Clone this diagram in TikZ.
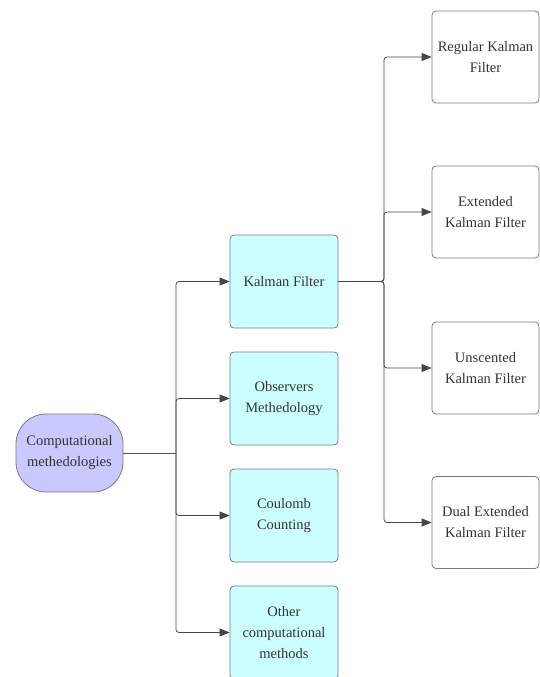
\documentclass[tikz,border=0pt]{standalone}
\usepackage{fontspec}
\setmainfont{Liberation Serif}
\usetikzlibrary{arrows.meta}
\definecolor{cyanfill}{HTML}{CCFFFF}
\definecolor{lavfill}{HTML}{C9C9FF}
\definecolor{boxline}{HTML}{7A7A80}
\definecolor{conn}{HTML}{454545}
\definecolor{rootconn}{HTML}{4A4A80}
\definecolor{txt}{HTML}{333333}
\tikzset{
  base/.style={draw=boxline, line width=0.8pt, rounded corners=4pt, minimum width=108pt, minimum height=93pt, align=center, text=txt, font=\fontsize{14.5}{21}\selectfont, inner sep=2pt},
  method/.style={base, fill=cyanfill},
  leaf/.style={base, fill=white, minimum width=107pt, minimum height=92pt},
  root/.style={draw=boxline, line width=0.8pt, rounded corners=30pt, fill=lavfill, minimum width=107pt, minimum height=78pt, align=center, text=txt, font=\fontsize{14.5}{21}\selectfont},
  arr/.style={draw=conn, line width=0.8pt, rounded corners=3pt, -{Triangle[length=10pt,width=8pt]}},
  rootline/.style={draw=rootconn, line width=0.9pt}
}
\begin{document}
\begin{tikzpicture}[x=1pt,y=-1pt]
\useasboundingbox (0,0) rectangle (539,677);
\node[root] (cm) at (69.5,453) {Computational\\methedologies};
\node[method] (kf) at (284,281.5) {Kalman Filter};
\node[method] (ob) at (284,398.5) {Observers\\Methedology};
\node[method] (cc) at (284,515.5) {Coulomb\\Counting};
\node[method] (oc) at (284,632.5) {Other\\computational\\methods};
\node[leaf] (rk) at (485.5,57) {Regular Kalman\\Filter};
\node[leaf] (ek) at (485.5,212) {Extended\\Kalman Filter};
\node[leaf] (uk) at (485.5,368) {Unscented\\Kalman Filter};
\node[leaf] (dk) at (485.5,522.5) {Dual Extended\\Kalman Filter};
\coordinate (t1) at (176,453);
\coordinate (t2) at (384,281.5);
\draw[arr] (t1) |- (kf.west);
\draw[arr] (t1) |- (ob.west);
\draw[arr] (t1) |- (cc.west);
\draw[arr] (t1) |- (oc.west);
\draw[rootline] (cm.east) -- (t1);
\draw[arr] (kf.east) -- (t2) |- (rk.west);
\draw[arr] (kf.east) -- (t2) |- (ek.west);
\draw[arr] (kf.east) -- (t2) |- (uk.west);
\draw[arr] (kf.east) -- (t2) |- (dk.west);
\end{tikzpicture}
\end{document}
